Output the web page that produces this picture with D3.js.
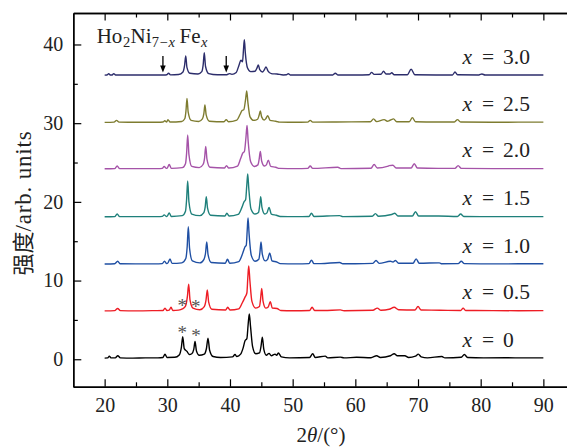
<!DOCTYPE html>
<html><head><meta charset="utf-8">
<script src="https://cdn.jsdelivr.net/npm/d3@7"></script>
<style>body{margin:0;background:#fff}svg{display:block}
.serif{font-family:"Liberation Serif","Tinos","DejaVu Serif",serif}
.cjk{font-family:"Noto Sans CJK SC",sans-serif}
</style>
</head><body>
<svg id="chart" width="567" height="448"></svg>
<script>
// ---------- data ----------
const compositions = ["0", "0.5", "1.0", "1.5", "2.0", "2.5", "3.0"];
const baselines = [0.15, 6.15, 12.1, 18.1, 24.2, 30.1, 36.1];
const lineColors = ["#000000", "#ee1d25", "#1f4fa3", "#1f807b", "#a553a8", "#7e7c30", "#2c2d6b"];

const s00 = [[20,0],[20.5,0.02],[20.75,0.25],[21.0,0.03],[21.7,0.03],[22.1,0.3],[22.5,0.03],[24.5,0],[26.5,0.03],[28.5,0.02],[29.3,0.08],[29.63,0.5],[29.95,0.08],[31.2,0.1],[31.9,0.4],[32.25,1.4],[32.46,2.72],[32.7,1.2],[33.14,0.85],[33.5,0.45],[33.9,0.55],[34.22,1.1],[34.42,2.1],[34.65,0.9],[35.1,0.35],[35.9,0.5],[36.25,1.25],[36.49,2.52],[36.75,1.0],[37.3,0.2],[38.5,0.08],[40.4,0.15],[40.8,0.45],[41.1,0.2],[41.7,0.5],[42.1,1.3],[42.4,2.2],[42.7,2.5],[42.9,4.3],[43.08,5.6],[43.28,4.0],[43.6,1.5],[44.1,0.55],[44.7,0.65],[44.95,1.5],[45.16,2.65],[45.4,1.1],[45.8,0.35],[46.23,0.6],[46.6,0.3],[47.19,0.5],[47.45,0.35],[47.71,0.65],[48.2,0.15],[49.5,0.03],[52.7,0.08],[53.2,0.55],[53.6,0.08],[55.2,0.25],[55.6,0.03],[57.6,0.12],[58.2,0.02],[60.2,0.1],[62.5,0.05],[63.4,0.3],[64.0,0.08],[65.6,0.3],[66.2,0.55],[66.7,0.3],[67.9,0.3],[68.5,0.08],[69.6,0.25],[70.05,0.5],[70.5,0.15],[71.5,0.03],[73.8,0.2],[74.3,0.02],[76.9,0.1],[77.4,0.45],[77.9,0.08],[80.5,0.03],[84,0.04],[87,0.02],[90,0.03]];
const s05 = [[20,0],[21.6,0.03],[22.08,0.3],[22.5,0.03],[25,0],[28,0.03],[29.3,0.05],[29.63,0.35],[29.95,0.05],[30.3,0.1],[30.59,0.45],[30.9,0.05],[31.8,0.1],[32.4,0.25],[32.9,0.6],[33.2,1.8],[33.41,3.4],[33.62,1.4],[34.1,0.35],[35.2,0.15],[35.9,0.55],[36.18,1.4],[36.38,2.65],[36.6,1.1],[37.1,0.2],[39.3,0.1],[39.64,0.45],[40.0,0.1],[41.4,0.25],[41.95,1.0],[42.4,1.75],[42.7,2.3],[42.85,4.3],[42.99,5.7],[43.18,3.8],[43.5,1.2],[44.1,0.35],[44.7,0.55],[44.88,1.5],[45.06,2.85],[45.28,1.2],[45.7,0.35],[46.1,0.5],[46.43,1.15],[46.75,0.35],[47.5,0.3],[48.1,0.05],[50,0.02],[52.7,0.05],[53.1,0.45],[53.5,0.05],[55,0.05],[57.6,0.12],[58.2,0.02],[62.8,0.08],[63.5,0.35],[64.1,0.08],[65.4,0.2],[66.2,0.45],[66.9,0.15],[69.5,0.1],[70.0,0.55],[70.5,0.1],[73.5,0.08],[76.8,0.05],[77.2,0.35],[77.6,0.05],[82,0.03],[86,0.02],[90,0.03]];
const s10 = [[20,0],[21.6,0.03],[22.08,0.35],[22.5,0.03],[25,0.02],[28,0.02],[29.2,0.05],[29.55,0.35],[29.9,0.05],[30.1,0.15],[30.43,0.65],[30.75,0.08],[32.3,0.15],[32.95,0.7],[33.17,2.2],[33.35,4.75],[33.55,2.0],[34.0,0.4],[35.2,0.15],[35.85,0.6],[36.1,1.4],[36.29,2.8],[36.5,1.2],[37.0,0.2],[39.25,0.1],[39.6,0.6],[39.95,0.1],[41.4,0.3],[42.0,1.3],[42.4,2.2],[42.6,2.4],[42.75,4.3],[42.88,5.85],[43.05,3.8],[43.4,1.1],[44.0,0.35],[44.6,0.6],[44.78,1.5],[44.95,2.8],[45.15,1.3],[45.6,0.4],[46.0,0.6],[46.34,1.4],[46.7,0.4],[47.5,0.25],[48.0,0.05],[50.5,0.02],[52.6,0.05],[53.0,0.5],[53.4,0.05],[54.5,0.05],[57.5,0.2],[58.0,0.03],[60,0.03],[62.8,0.08],[63.3,0.45],[63.8,0.08],[65.6,0.35],[66.0,0.25],[66.4,0.45],[66.9,0.1],[69.2,0.1],[69.7,0.65],[70.2,0.1],[73.4,0.15],[73.8,0.03],[76.4,0.05],[76.9,0.35],[77.4,0.05],[82,0.02],[86,0.03],[90,0.03]];
const s15 = [[20,0],[21.6,0.03],[22.0,0.35],[22.4,0.03],[25,0.02],[28.5,0.02],[29.2,0.05],[29.5,0.25],[29.85,0.05],[30.0,0.1],[30.3,0.5],[30.65,0.05],[32.4,0.15],[32.9,0.7],[33.08,2.2],[33.25,4.55],[33.45,1.9],[33.9,0.35],[35.2,0.15],[35.8,0.5],[36.05,1.3],[36.22,2.55],[36.42,1.1],[36.9,0.2],[39.2,0.1],[39.5,0.45],[39.85,0.1],[41.3,0.3],[41.9,1.2],[42.24,1.9],[42.5,2.2],[42.68,4.0],[42.83,5.45],[43.0,3.6],[43.35,1.0],[44.0,0.35],[44.55,0.55],[44.73,1.4],[44.9,2.55],[45.1,1.2],[45.55,0.35],[45.9,0.5],[46.23,1.2],[46.6,0.35],[47.4,0.2],[48.0,0.05],[50.5,0.02],[52.6,0.05],[53.0,0.45],[53.4,0.05],[57.5,0.15],[58.0,0.02],[62.7,0.08],[63.2,0.4],[63.7,0.08],[65.8,0.3],[66.3,0.45],[66.8,0.1],[69.1,0.1],[69.6,0.65],[70.1,0.1],[73.3,0.1],[76.3,0.05],[76.8,0.35],[77.3,0.05],[82,0.02],[86,0.03],[90,0.03]];
const s20 = [[20,0],[21.6,0.03],[22.0,0.35],[22.4,0.03],[25,0.02],[28.5,0.02],[29.2,0.05],[29.5,0.3],[29.85,0.05],[30.0,0.1],[30.3,0.55],[30.65,0.05],[32.4,0.15],[32.9,0.65],[33.08,2.0],[33.25,4.3],[33.45,1.8],[33.9,0.3],[35.1,0.15],[35.7,0.55],[35.95,1.4],[36.13,2.85],[36.33,1.2],[36.8,0.2],[39.1,0.1],[39.45,0.4],[39.8,0.1],[41.2,0.35],[41.7,1.3],[42.03,2.0],[42.3,2.2],[42.55,4.0],[42.72,5.5],[42.9,3.5],[43.3,0.9],[43.9,0.3],[44.45,0.5],[44.65,1.2],[44.84,2.2],[45.05,1.0],[45.5,0.35],[45.8,0.5],[46.12,1.1],[46.5,0.3],[47.3,0.2],[47.9,0.05],[50.5,0.02],[52.4,0.05],[52.8,0.35],[53.2,0.05],[57.2,0.2],[57.7,0.02],[62.5,0.08],[63.0,0.55],[63.5,0.1],[65.1,0.3],[65.4,0.4],[66.0,0.45],[66.5,0.1],[68.9,0.1],[69.4,0.65],[69.9,0.1],[73.2,0.05],[75.9,0.05],[76.4,0.4],[76.9,0.05],[82,0.02],[86,0.03],[90,0.03]];
const s25 = [[20,0],[21.5,0.03],[21.9,0.25],[22.3,0.03],[25,0.02],[28.5,0.02],[29.3,0.05],[29.6,0.2],[29.9,0.05],[30.1,0.35],[30.45,0.05],[32.3,0.12],[32.8,0.5],[32.97,1.4],[33.14,3.05],[33.33,1.3],[33.8,0.25],[35.0,0.12],[35.6,0.45],[35.83,1.1],[36.0,2.2],[36.2,0.95],[36.7,0.15],[39.05,0.08],[39.4,0.35],[39.75,0.08],[41.1,0.3],[41.6,1.0],[41.92,1.5],[42.2,1.6],[42.5,3.0],[42.67,4.0],[42.85,2.6],[43.2,0.7],[43.8,0.25],[44.4,0.4],[44.65,0.9],[44.84,1.45],[45.05,0.7],[45.45,0.3],[45.7,0.45],[46.02,0.85],[46.4,0.25],[47.3,0.15],[47.9,0.03],[50.5,0.02],[52.4,0.03],[52.8,0.25],[53.2,0.03],[57,0.05],[62.4,0.08],[62.9,0.45],[63.4,0.1],[64.6,0.35],[65.1,0.15],[65.6,0.3],[66.1,0.45],[66.6,0.08],[68.6,0.08],[69.1,0.6],[69.6,0.08],[73,0.04],[75.8,0.05],[76.3,0.35],[76.8,0.04],[82,0.02],[86,0.03],[90,0.03]];
const s30 = [[20,0],[20.35,0.02],[20.65,0.18],[20.95,0.02],[21.2,0.03],[21.45,0.2],[21.75,0.02],[24,0.02],[27,0.02],[29.5,0.02],[29.9,0.05],[30.2,0.25],[30.5,0.04],[31.8,0.08],[32.5,0.4],[32.75,1.2],[32.94,2.45],[33.13,1.0],[33.6,0.25],[34.9,0.15],[35.5,0.45],[35.72,1.3],[35.9,2.85],[36.1,1.1],[36.6,0.2],[38,0.05],[39.5,0.05],[39.9,0.2],[40.3,0.1],[41.0,0.35],[41.45,1.3],[41.75,1.9],[42.0,1.7],[42.15,3.2],[42.29,4.5],[42.45,2.8],[42.8,0.9],[43.3,0.45],[44.0,0.5],[44.3,0.9],[44.52,1.3],[44.75,0.7],[45.2,0.4],[45.45,0.65],[45.75,1.05],[46.05,0.55],[46.6,0.2],[47.5,0.15],[48.5,0.03],[49.0,0.05],[49.3,0.18],[49.6,0.03],[53,0.02],[56.4,0.03],[56.8,0.25],[57.2,0.03],[60,0.02],[62.2,0.05],[62.6,0.35],[63.0,0.1],[64.1,0.12],[64.5,0.5],[64.9,0.15],[65.5,0.15],[65.8,0.3],[66.2,0.05],[68.3,0.05],[68.9,0.75],[69.5,0.05],[73,0.03],[75.5,0.03],[75.9,0.4],[76.3,0.05],[79.7,0.03],[80.2,0.15],[80.7,0.02],[85,0.02],[90,0.03]];
const seriesData = [s00, s05, s10, s15, s20, s25, s30];

const xMajorTicks = [20, 30, 40, 50, 60, 70, 80, 90];
const xMinorTicks = [25, 35, 45, 55, 65, 75, 85];
const yMajorTicks = [0, 10, 20, 30, 40];
const yMinorTicks = [5, 15, 25, 35];

const starX = [32.39, 34.53, 32.39, 34.58];
const starY = [7.12, 6.99, 3.72, 3.30];
const arrowX = [29.3, 39.4];
const arrowTop = 38.55, arrowTip = 36.45;
const labelLift = 1.45;

// ---------- drawing ----------
const svg = d3.select("#chart");
const x = d3.scaleLinear().domain([15, 95]).range([73.3, 574.7]);
const y = d3.scaleLinear().domain([-3.5, 44]).range([386.8, 13.0]);

const g = svg.append("g");

function styleAxis(sel) {
  sel.attr("font-family", null).attr("font-size", null);
  sel.select(".domain").attr("stroke", "#000").attr("stroke-width", 1.4);
  sel.selectAll(".tick line").attr("stroke", "#000").attr("stroke-width", 1.2);
  sel.selectAll(".tick text").attr("class", "serif").style("font-size", "20px").attr("fill", "#222");
}
const bottomY = y.range()[0], topY = y.range()[1], leftX = x.range()[0], rightX = x.range()[1];

g.append("g").attr("transform", `translate(0,${bottomY})`)
  .call(d3.axisBottom(x).tickValues(xMajorTicks).tickSizeInner(-7.5).tickSizeOuter(0).tickPadding(11.5).tickFormat(d3.format("d")))
  .call(styleAxis);
g.append("g").attr("transform", `translate(0,${bottomY})`)
  .call(d3.axisBottom(x).tickValues(xMinorTicks).tickSizeInner(-4.5).tickSizeOuter(0).tickFormat(""))
  .call(styleAxis);
g.append("g").attr("transform", `translate(0,${topY})`)
  .call(d3.axisTop(x).tickValues(xMajorTicks).tickSizeInner(-7.5).tickSizeOuter(0).tickFormat(""))
  .call(styleAxis);
g.append("g").attr("transform", `translate(0,${topY})`)
  .call(d3.axisTop(x).tickValues(xMinorTicks).tickSizeInner(-4.5).tickSizeOuter(0).tickFormat(""))
  .call(styleAxis);
g.append("g").attr("transform", `translate(${leftX},0)`)
  .call(d3.axisLeft(y).tickValues(yMajorTicks).tickSizeInner(-8).tickSizeOuter(0).tickPadding(10).tickFormat(d3.format("d")))
  .call(styleAxis);
g.append("g").attr("transform", `translate(${leftX},0)`)
  .call(d3.axisLeft(y).tickValues(yMinorTicks).tickSizeInner(-4.5).tickSizeOuter(0).tickFormat(""))
  .call(styleAxis);
g.append("g").attr("transform", `translate(${rightX},0)`)
  .call(d3.axisRight(y).tickValues([]).tickSizeOuter(0))
  .call(styleAxis);

// series
seriesData.forEach((data, i) => {
  const base = baselines[i];
  const line = d3.line()
    .x(d => x(d[0]))
    .y(d => y(d[1] + base))
    .curve(d3.curveMonotoneX);
  g.append("path")
    .datum(data)
    .attr("fill", "none")
    .attr("stroke", lineColors[i])
    .attr("stroke-width", 1.4)
    .attr("stroke-linejoin", "round")
    .attr("d", line);
});

// series labels
compositions.forEach((c, i) => {
  const ty = y(baselines[i] + labelLift);
  const t = g.append("text").attr("class", "serif").style("font-size", "21.5px").attr("fill", "#222").attr("y", ty);
  t.append("tspan").attr("x", 462.5).style("font-style", "italic").text("x");
  t.append("tspan").attr("x", 488).attr("text-anchor", "middle").text("=");
  t.append("tspan").attr("x", 503).text(c);
});

// asterisks
starX.forEach((sx, i) => {
  g.append("text")
    .attr("x", x(sx)).attr("y", y(starY[i]) + 9)
    .attr("text-anchor", "middle")
    .attr("class", "serif").style("font-size", "19px").attr("fill", "#555")
    .text("*");
});

// arrows
arrowX.forEach(ax => {
  const px = x(ax), y0 = y(arrowTop), y1 = y(arrowTip);
  g.append("line").attr("x1", px).attr("x2", px).attr("y1", y0).attr("y2", y1 - 5)
    .attr("stroke", "#000").attr("stroke-width", 1.3);
  g.append("path")
    .attr("d", `M${px - 2.8},${y1 - 7} L${px + 2.8},${y1 - 7} L${px},${y1} Z`)
    .attr("fill", "#000");
});

// formula title
const title = g.append("text").attr("class", "serif").style("font-size", "21px").attr("fill", "#222").attr("y", 42.7);
title.append("tspan").attr("x", 96.7).text("Ho");
title.append("tspan").attr("x", 123).attr("dy", 4.5).style("font-size", "14.5px").text("2");
title.append("tspan").attr("x", 130.5).attr("dy", -4.5).text("Ni");
title.append("tspan").attr("x", 151.8).attr("dy", 4.5).style("font-size", "14.5px").text("7");
title.append("tspan").attr("x", 159.5).style("font-size", "14.5px").text("\u2212");
title.append("tspan").attr("x", 168.5).style("font-size", "14.5px").style("font-style", "italic").text("x");
title.append("tspan").attr("x", 179.5).attr("dy", -4.5).text("Fe");
title.append("tspan").attr("x", 201).attr("dy", 4.5).style("font-size", "14.5px").style("font-style", "italic").text("x");

// x-axis title
const xt = g.append("text").attr("class", "serif").style("font-size", "21px").attr("fill", "#222")
  .attr("x", 321).attr("y", 442).attr("text-anchor", "middle");
xt.append("tspan").text("2");
xt.append("tspan").style("font-style", "italic").text("\u03b8");
xt.append("tspan").text("/(\u00b0)");

// y-axis title
const yt = g.append("text").attr("transform", "translate(31,203) rotate(-90)")
  .attr("text-anchor", "middle").attr("class", "serif").style("font-size", "23px").attr("fill", "#222");
yt.append("tspan").attr("class", "cjk").style("font-size", "22px").text("强度");
yt.append("tspan").attr("letter-spacing", 0.8).text("/arb. units");
</script>
</body></html>
